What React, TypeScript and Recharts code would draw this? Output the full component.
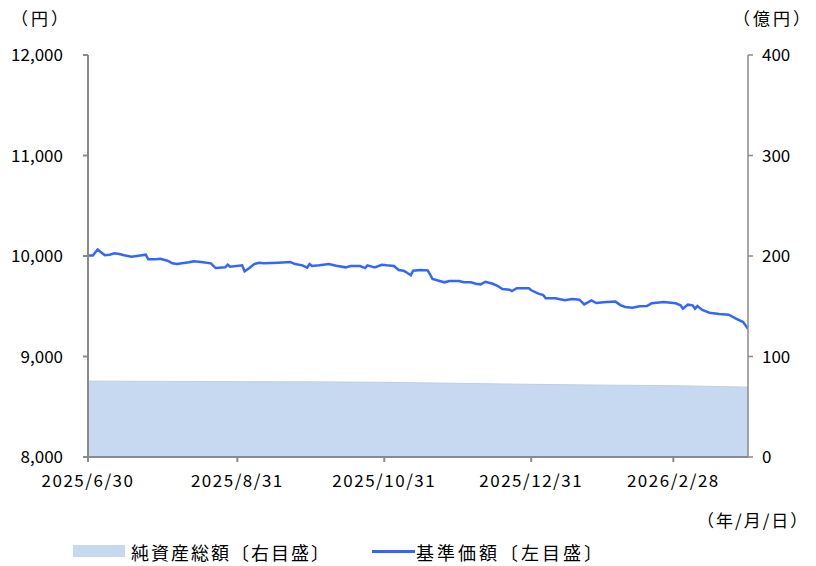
import React from 'react';
import { ComposedChart, Line, Area, XAxis, YAxis } from 'recharts';

// 基準価額（円）
const navDates = [
  '2025/6/30', '2025/7/2', '2025/7/4', '2025/7/7', '2025/7/9', '2025/7/11', '2025/7/13', '2025/7/15', '2025/7/18', '2025/7/21',
  '2025/7/24', '2025/7/25', '2025/7/28', '2025/7/30', '2025/8/2', '2025/8/4', '2025/8/6', '2025/8/8', '2025/8/11', '2025/8/13',
  '2025/8/16', '2025/8/20', '2025/8/22', '2025/8/26', '2025/8/27', '2025/8/28', '2025/9/2', '2025/9/3', '2025/9/5', '2025/9/7',
  '2025/9/9', '2025/9/11', '2025/9/17', '2025/9/22', '2025/9/24', '2025/9/27', '2025/9/29', '2025/9/30', '2025/10/1', '2025/10/4',
  '2025/10/8', '2025/10/11', '2025/10/15', '2025/10/17', '2025/10/21', '2025/10/23', '2025/10/24', '2025/10/27', '2025/10/30', '2025/11/1',
  '2025/11/4', '2025/11/6', '2025/11/8', '2025/11/9', '2025/11/11', '2025/11/12', '2025/11/15', '2025/11/18', '2025/11/19', '2025/11/20',
  '2025/11/23', '2025/11/25', '2025/11/27', '2025/12/1', '2025/12/3', '2025/12/6', '2025/12/8', '2025/12/10', '2025/12/12', '2025/12/15',
  '2025/12/17', '2025/12/19', '2025/12/22', '2025/12/23', '2025/12/25', '2025/12/30', '2025/12/31', '2026/1/3', '2026/1/5', '2026/1/6',
  '2026/1/10', '2026/1/14', '2026/1/17', '2026/1/20', '2026/1/22', '2026/1/25', '2026/1/27', '2026/1/30', '2026/2/4', '2026/2/6',
  '2026/2/8', '2026/2/11', '2026/2/14', '2026/2/17', '2026/2/19', '2026/2/24', '2026/3/1', '2026/3/3', '2026/3/4', '2026/3/6',
  '2026/3/8', '2026/3/9', '2026/3/10', '2026/3/12', '2026/3/15', '2026/3/19', '2026/3/23', '2026/3/26', '2026/3/29', '2026/3/31',
];
const navValues = [
  10005, 10005, 10065, 10007, 10013, 10027, 10020, 10007, 9993, 10003,
  10013, 9967, 9967, 9973, 9953, 9927, 9920, 9927, 9937, 9948,
  9940, 9927, 9880, 9887, 9913, 9893, 9907, 9848, 9880, 9920,
  9933, 9927, 9933, 9940, 9920, 9907, 9885, 9920, 9900, 9907,
  9920, 9903, 9887, 9900, 9900, 9880, 9907, 9887, 9913, 9907,
  9900, 9860, 9853, 9840, 9808, 9853, 9860, 9857, 9818, 9771,
  9751, 9738, 9751, 9751, 9738, 9738, 9724, 9718, 9744, 9724,
  9704, 9672, 9665, 9652, 9679, 9679, 9659, 9625, 9612, 9579,
  9579, 9559, 9572, 9565, 9519, 9559, 9532, 9539, 9546, 9512,
  9493, 9486, 9500, 9502, 9529, 9542, 9529, 9509, 9476, 9516,
  9509, 9476, 9502, 9463, 9436, 9423, 9416, 9376, 9343, 9275,
];

// 純資産総額（億円）
const assetDates = ['2025/6/30', '2025/7/31', '2025/8/31', '2025/9/30', '2025/10/31', '2025/11/30', '2025/12/31', '2026/1/31', '2026/2/28', '2026/3/31'];
const assetValues = [75.5, 75.3, 75.0, 74.8, 74.3, 73.3, 72.3, 71.5, 71.0, 69.5];

const xTickDates = ['2025/6/30', '2025/8/31', '2025/10/31', '2025/12/31', '2026/2/28'];
const leftTicks = [8000, 9000, 10000, 11000, 12000];
const rightTicks = [0, 100, 200, 300, 400];

const toTime = (s: string) => {
  const [y, m, d] = s.split('/').map(Number);
  return Date.UTC(y, m - 1, d);
};
const fmtDate = (t: number) => {
  const d = new Date(t);
  return `${d.getUTCFullYear()}/${d.getUTCMonth() + 1}/${d.getUTCDate()}`;
};

const navData = navDates.map((d, i) => ({ t: toTime(d), nav: navValues[i] }));
const assetData = assetDates.map((d, i) => ({ t: toTime(d), assets: assetValues[i] }));

const FONT = '"Noto Sans CJK JP", "Noto Sans", sans-serif';
const AXIS = '#8a8a8a';
const tickStyle = { fill: '#000', fontSize: 17, fontFamily: FONT };
const xTickStyle = { fill: '#000', fontSize: 17, fontFamily: FONT, letterSpacing: 1.5 };
const jp: React.CSSProperties = { position: 'absolute', whiteSpace: 'nowrap' };

export default function App() {
  return (
    <div style={{ position: 'relative', width: 816, height: 566, background: '#fff', fontFamily: FONT, color: '#000' }}>
      <style>{'body{margin:0}'}</style>
      <div style={{ ...jp, left: 11, top: 5, fontSize: 17, letterSpacing: 3 }}>（円）</div>
      <div style={{ ...jp, left: 733, top: 5, fontSize: 17, letterSpacing: 3 }}>（億円）</div>
      <ComposedChart width={816} height={566} margin={{ top: 55, right: 0, bottom: 79, left: 0 }}>
        <XAxis
          dataKey="t"
          type="number"
          scale="time"
          domain={[toTime('2025/6/30'), toTime('2026/3/31')]}
          ticks={xTickDates.map(toTime)}
          tickFormatter={fmtDate}
          allowDataOverflow
          height={30}
          stroke={AXIS}
          strokeWidth={2}
          tickSize={5}
          tickMargin={13}
          tick={xTickStyle}
        />
        <YAxis
          yAxisId="left"
          orientation="left"
          domain={[8000, 12000]}
          ticks={leftTicks}
          tickFormatter={(v: number) => v.toLocaleString('en-US')}
          width={88}
          stroke={AXIS}
          strokeWidth={2}
          tickSize={5}
          tickMargin={20}
          tick={tickStyle}
          allowDataOverflow
        />
        <YAxis
          yAxisId="right"
          orientation="right"
          domain={[0, 400]}
          ticks={rightTicks}
          width={68}
          stroke={AXIS}
          strokeWidth={1.5}
          tickSize={5}
          tickMargin={9}
          tick={tickStyle}
        />
        <Area
          yAxisId="right"
          data={assetData}
          dataKey="assets"
          type="linear"
          fill="#c6d9f0"
          fillOpacity={1}
          stroke="#c2cedd"
          strokeWidth={1}
          isAnimationActive={false}
        />
        <Line
          yAxisId="left"
          data={navData}
          dataKey="nav"
          type="linear"
          stroke="#3366ff"
          strokeWidth={2.5}
          dot={false}
          isAnimationActive={false}
        />
      </ComposedChart>
      <div style={{ ...jp, left: 697, top: 507, fontSize: 17, letterSpacing: 2 }}>（年/月/日）</div>
      <div style={{ position: 'absolute', left: 73, top: 545, width: 52, height: 12, background: '#c6d9f0' }} />
      <div style={{ ...jp, left: 131, top: 539, fontSize: 18, letterSpacing: 2 }}>純資産総額〔右目盛〕</div>
      <div style={{ position: 'absolute', left: 372, top: 550, width: 43, height: 2.5, background: '#3366ff' }} />
      <div style={{ ...jp, left: 416, top: 539, fontSize: 18, letterSpacing: 3 }}>基準価額〔左目盛〕</div>
    </div>
  );
}
